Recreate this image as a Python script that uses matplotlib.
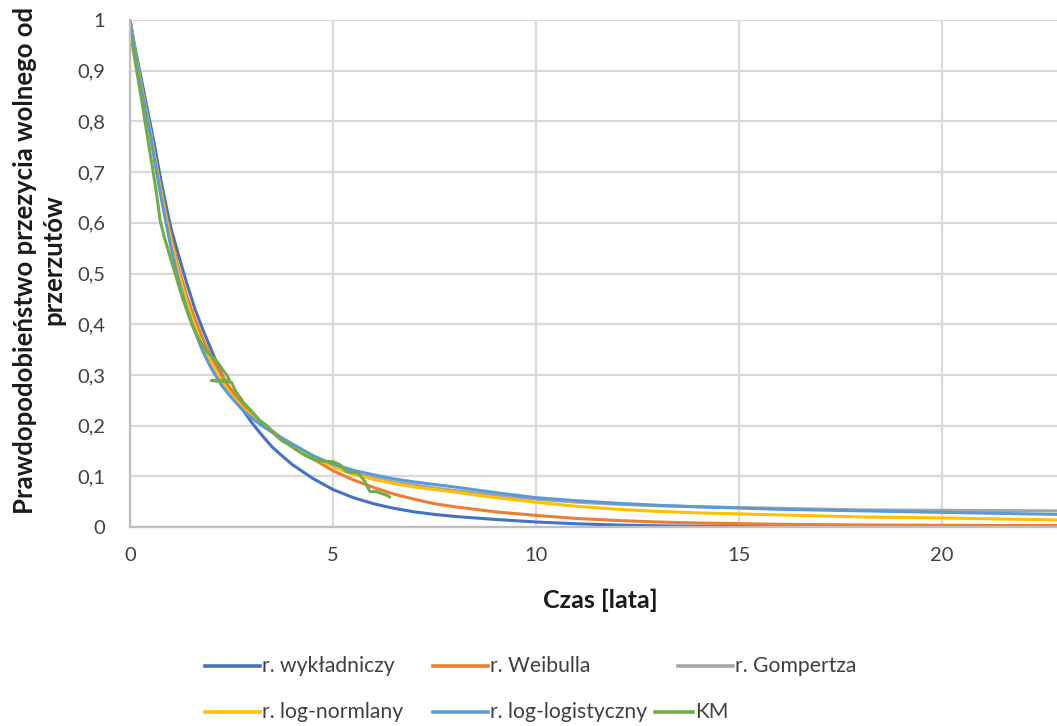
import matplotlib
matplotlib.use("Agg")
import matplotlib.pyplot as plt
from matplotlib.lines import Line2D

plt.rcParams['font.family'] = ['Lato', 'DejaVu Sans']

# time grid for fitted curves (years)
t_fit = [0, 0.1, 0.2, 0.3, 0.4, 0.5, 0.6, 0.7, 0.8, 0.9, 1.0, 1.2, 1.4, 1.6,
         1.8, 2.0, 2.25, 2.5, 2.75, 3.0, 3.25, 3.5, 3.75, 4.0, 4.5, 5.0, 5.5,
         6, 6.5, 7, 7.5, 8, 9, 10, 11, 12, 13, 14, 16, 18, 20, 22.83]

s_exp = [1, 0.955, 0.915, 0.875, 0.835, 0.795, 0.755, 0.71, 0.668, 0.63,
         0.592, 0.535, 0.48, 0.43, 0.388, 0.35, 0.302, 0.266, 0.234, 0.206,
         0.181, 0.158, 0.14, 0.123, 0.096, 0.074, 0.058, 0.046, 0.037, 0.030,
         0.025, 0.021, 0.015, 0.010, 0.0065, 0.004, 0.0025, 0.0017, 0.0008,
         0.0004, 0.0002, 0.0001]
s_weib = [1, 0.95, 0.905, 0.86, 0.82, 0.78, 0.735, 0.69, 0.65, 0.61, 0.575,
          0.51, 0.455, 0.41, 0.37, 0.335, 0.30, 0.27, 0.243, 0.222, 0.205,
          0.19, 0.175, 0.162, 0.135, 0.111, 0.093, 0.078, 0.065, 0.055,
          0.046, 0.040, 0.030, 0.023, 0.017, 0.013, 0.010, 0.008, 0.0055,
          0.0042, 0.0035, 0.003]
s_gomp = [1, 0.95, 0.905, 0.86, 0.82, 0.78, 0.73, 0.685, 0.64, 0.60, 0.56,
          0.49, 0.435, 0.39, 0.35, 0.318, 0.285, 0.258, 0.236, 0.218, 0.202,
          0.188, 0.175, 0.163, 0.140, 0.120, 0.106, 0.097, 0.089, 0.083,
          0.077, 0.072, 0.063, 0.055, 0.049, 0.045, 0.042, 0.040, 0.037,
          0.034, 0.033, 0.032]
s_lnorm = [1, 0.95, 0.905, 0.86, 0.82, 0.78, 0.733, 0.688, 0.645, 0.605,
           0.567, 0.50, 0.443, 0.395, 0.355, 0.322, 0.288, 0.26, 0.237, 0.218,
           0.202, 0.187, 0.173, 0.161, 0.138, 0.119, 0.104, 0.094, 0.086,
           0.079, 0.074, 0.069, 0.058, 0.049, 0.041, 0.035, 0.031, 0.028,
           0.024, 0.020, 0.018, 0.014]
s_llog = [1, 0.95, 0.90, 0.855, 0.815, 0.775, 0.725, 0.68, 0.635, 0.595,
          0.555, 0.485, 0.43, 0.385, 0.345, 0.313, 0.28, 0.255, 0.233, 0.215,
          0.200, 0.187, 0.175, 0.164, 0.141, 0.124, 0.112, 0.103, 0.095,
          0.089, 0.084, 0.079, 0.068, 0.058, 0.052, 0.047, 0.043, 0.040,
          0.035, 0.032, 0.029, 0.025]

# Kaplan-Meier estimate (points in plotting order)
t_km = [0.03, 0.08, 0.165, 0.27, 0.37, 0.47, 0.57, 0.64, 0.70, 0.74, 0.85,
        1.0, 1.11, 1.3, 1.52, 1.7, 1.9, 2.1, 2.2, 2.3, 2.38, 2.45, 2.35, 2.0,
        2.4, 2.5, 2.6, 2.8, 3.0, 3.2, 3.37, 3.6, 3.75, 3.9, 4.1, 4.3, 4.5,
        4.75, 5.0, 5.17, 5.34, 5.63, 5.79, 5.91, 6.07, 6.2, 6.32, 6.4]
s_km = [0.965, 0.94, 0.90, 0.85, 0.80, 0.75, 0.70, 0.665, 0.63, 0.605, 0.57,
        0.53, 0.50, 0.45, 0.40, 0.37, 0.345, 0.33, 0.32, 0.308, 0.30, 0.29,
        0.288, 0.289, 0.287, 0.285, 0.268, 0.245, 0.228, 0.21, 0.20, 0.18,
        0.17, 0.163, 0.152, 0.142, 0.134, 0.13, 0.129, 0.123, 0.109, 0.106,
        0.089, 0.07, 0.07, 0.066, 0.063, 0.059]

series = [
    ("r. wykładniczy", t_fit, s_exp, "#4472C4"),
    ("r. Weibulla", t_fit, s_weib, "#ED7D31"),
    ("r. Gompertza", t_fit, s_gomp, "#A5A5A5"),
    ("r. log-normlany", t_fit, s_lnorm, "#FFC000"),
    ("r. log-logistyczny", t_fit, s_llog, "#5B9BD5"),
    ("KM", t_km, s_km, "#70AD47"),
]

x_ticks = [0, 5, 10, 15, 20]
y_ticks = [0, 0.1, 0.2, 0.3, 0.4, 0.5, 0.6, 0.7, 0.8, 0.9, 1.0]
y_ticklabels = ["0", "0,1", "0,2", "0,3", "0,4", "0,5", "0,6", "0,7", "0,8",
                "0,9", "1"]

fig = plt.figure(figsize=(10.57, 7.26), dpi=100)
ax = fig.add_axes([0.123, 0.274, 0.877, 0.6985])

for label, xs, ys, col in series:
    ax.plot(xs, ys, color=col, lw=2.2, label=label, solid_capstyle='round',
            solid_joinstyle='round')

ax.set_xlim(0, 22.83)
ax.set_ylim(0, 1)
ax.set_xticks(x_ticks)
ax.set_xticklabels([str(v) for v in x_ticks])
ax.set_yticks(y_ticks)
ax.set_yticklabels(y_ticklabels)
ax.grid(True, color="#D9D9D9", lw=1.6)
ax.set_axisbelow(True)
for s in ["top", "right"]:
    ax.spines[s].set_visible(False)
for s in ["left", "bottom"]:
    ax.spines[s].set_color("#BFBFBF")
    ax.spines[s].set_linewidth(1.6)
ax.tick_params(length=0, labelsize=14.5, colors="#404040")
ax.tick_params(axis='x', pad=14)
ax.tick_params(axis='y', pad=18)

fig.text(600 / 1057, 1 - 600 / 726, "Czas [lata]", ha="center", va="center",
         fontsize=18, fontweight="bold", color="#1a1a1a")
fig.text(39 / 1057, 1 - 260 / 726,
         "Prawdopodobieństwo przezycia wolnego od\nprzerzutów",
         ha="center", va="center", rotation=90, fontsize=18.5,
         fontweight="bold", linespacing=1.2, color="#1a1a1a")

# legend (two rows, Excel-style packing)
legend_pos = [(205, 666), (433, 666), (678, 666),
              (205, 712), (433, 712), (655, 712)]
legend_len = [55, 55, 55, 55, 55, 38]
for (label, xs, ys, col), (px, py), ln in zip(series, legend_pos, legend_len):
    yf = 1 - py / 726
    fig.add_artist(Line2D([px / 1057, (px + ln) / 1057], [yf, yf],
                          color=col, lw=2.6, transform=fig.transFigure))
    fig.text((px + ln + 2) / 1057, yf, label, ha="left", va="center",
             fontsize=15.2, color="#404040")

fig.savefig("out.png", dpi=100)
